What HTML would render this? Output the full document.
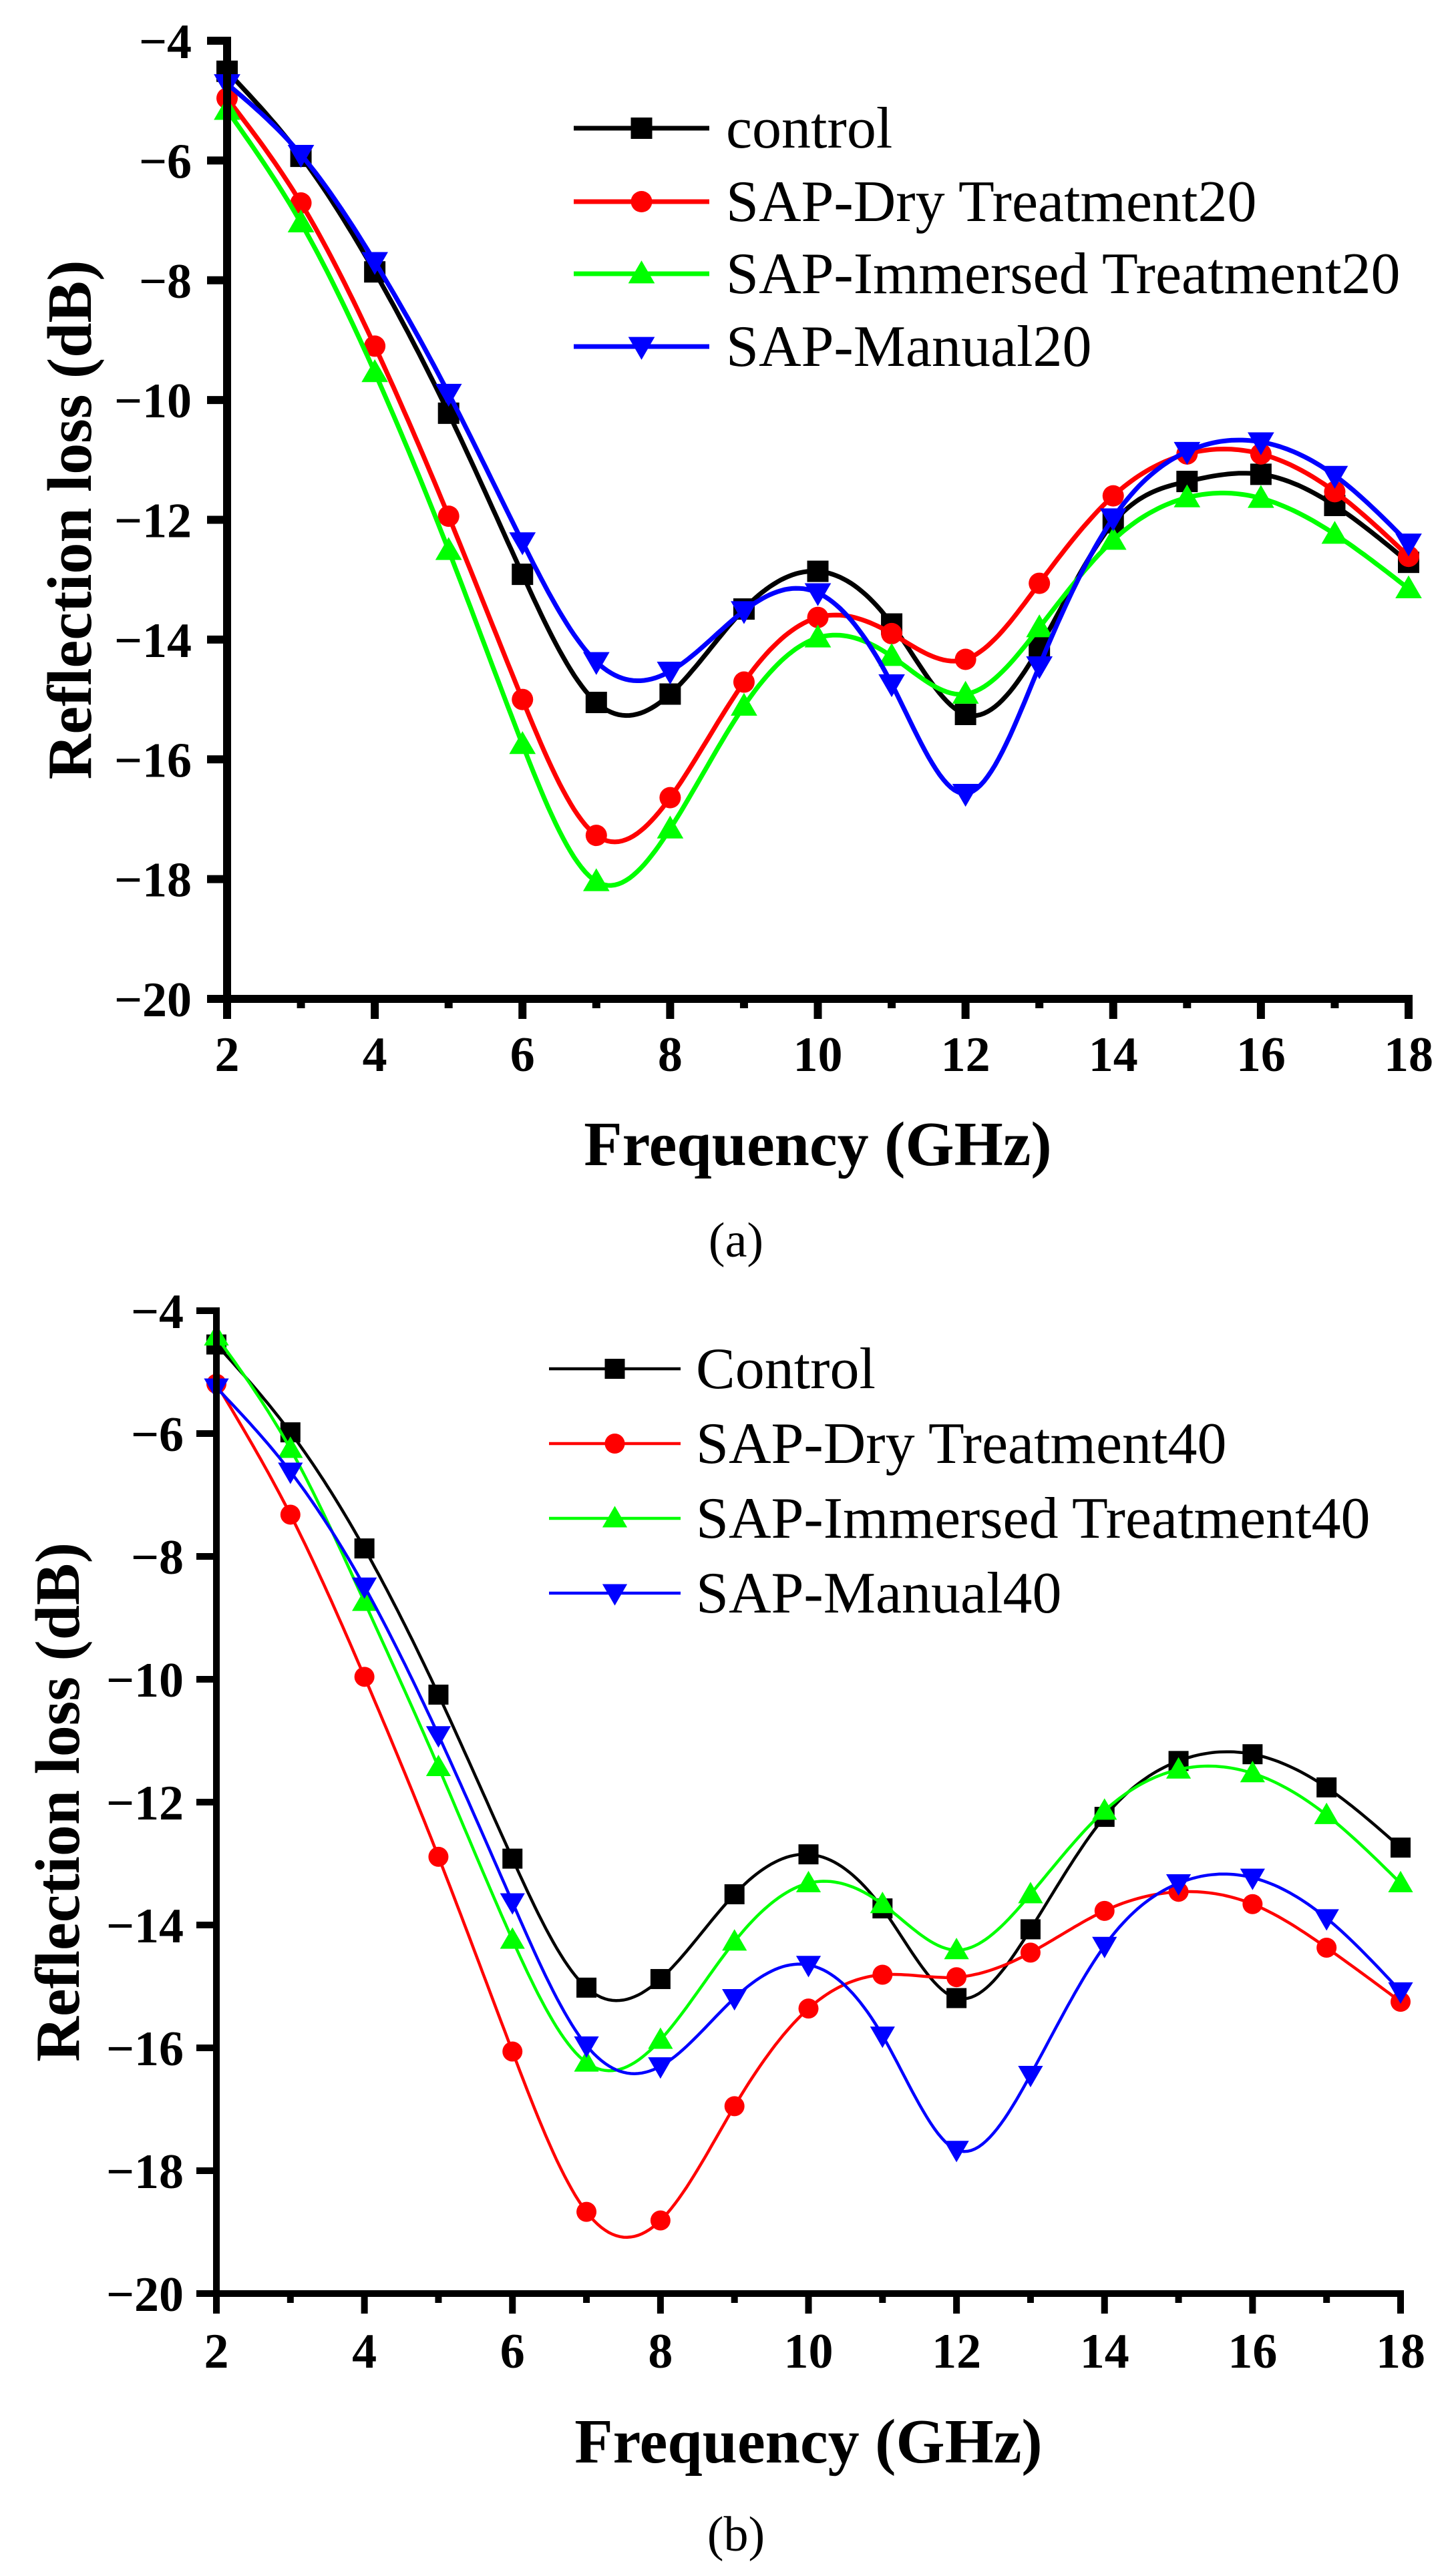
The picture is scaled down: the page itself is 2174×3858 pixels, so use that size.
<!DOCTYPE html>
<html><head><meta charset="utf-8"><style>
html,body{margin:0;padding:0;background:#fff}
svg{display:block}
text{font-family:"Liberation Serif","Times New Roman",serif}
</style></head><body>
<svg id="fig" width="2174" height="3858" viewBox="0 0 2174 3858" xmlns="http://www.w3.org/2000/svg"></svg>
<script>
const freqs=[2,3,4,5,6,7,8,9,10,11,12,13,14,15,16,17,18];
const xTicks=[2,4,6,8,10,12,14,16,18];
const yTicks=[-4,-6,-8,-10,-12,-14,-16,-18,-20];
const aControl=[-4.51,-5.93,-7.86,-10.22,-12.91,-15.05,-14.91,-13.49,-12.86,-13.74,-15.25,-14.13,-12.05,-11.36,-11.24,-11.76,-12.71];
const aDry=[-4.96,-6.71,-9.10,-11.94,-15.0,-17.27,-16.64,-14.71,-13.63,-13.90,-14.33,-13.06,-11.60,-10.90,-10.90,-11.53,-12.61];
const aImm=[-5.16,-7.04,-9.54,-12.51,-15.75,-18.04,-17.16,-15.11,-13.97,-14.28,-14.91,-13.80,-12.34,-11.63,-11.64,-12.24,-13.15];
const aMan=[-4.72,-5.90,-7.69,-9.89,-12.37,-14.37,-14.53,-13.52,-13.22,-14.74,-16.57,-14.44,-11.97,-10.86,-10.70,-11.26,-12.39];
const bControl=[-4.55,-5.98,-7.87,-10.25,-12.92,-15.02,-14.88,-13.5,-12.85,-13.73,-15.19,-14.07,-12.24,-11.33,-11.22,-11.76,-12.74];
const bDry=[-5.19,-7.32,-9.96,-12.89,-16.06,-18.67,-18.81,-16.95,-15.36,-14.81,-14.85,-14.45,-13.77,-13.46,-13.66,-14.37,-15.25];
const bImm=[-4.42,-6.25,-8.74,-11.43,-14.24,-16.24,-15.87,-14.27,-13.32,-13.66,-14.41,-13.5,-12.14,-11.47,-11.53,-12.21,-13.32];
const bMan=[-5.25,-6.62,-8.49,-10.91,-13.63,-15.96,-16.30,-15.19,-14.65,-15.80,-17.66,-16.44,-14.34,-13.32,-13.23,-13.89,-15.08];
const aNames=["control","SAP-Dry Treatment20","SAP-Immersed Treatment20","SAP-Manual20"];
const bNames=["Control","SAP-Dry Treatment40","SAP-Immersed Treatment40","SAP-Manual40"];

const NS="http://www.w3.org/2000/svg";
const svg=document.getElementById('fig');
function mk(tag,attrs,parent){const e=document.createElementNS(NS,tag);for(const k in attrs)e.setAttribute(k,attrs[k]);(parent||svg).appendChild(e);return e;}

function spline(xs,ys){
  const n=xs.length,h=[],al=[],l=[1],mu=[0],z=[0],c=new Array(n).fill(0),b=[],d=[];
  for(let i=0;i<n-1;i++)h.push(xs[i+1]-xs[i]);
  for(let i=1;i<n-1;i++)al[i]=3/h[i]*(ys[i+1]-ys[i])-3/h[i-1]*(ys[i]-ys[i-1]);
  for(let i=1;i<n-1;i++){l[i]=2*(xs[i+1]-xs[i-1])-h[i-1]*mu[i-1];mu[i]=h[i]/l[i];z[i]=(al[i]-h[i-1]*z[i-1])/l[i];}
  for(let j=n-2;j>=0;j--){c[j]=(z[j]||0)-(mu[j]||0)*c[j+1];b[j]=(ys[j+1]-ys[j])/h[j]-h[j]*(c[j+1]+2*c[j])/3;d[j]=(c[j+1]-c[j])/(3*h[j]);}
  return function(x){let j=Math.min(n-2,Math.max(0,Math.floor(x-xs[0])));const dx=x-xs[j];return ys[j]+b[j]*dx+c[j]*dx*dx+d[j]*dx*dx*dx;};
}

function marker(g,kind,cx,cy,col,s){
  let e;
  if(kind===0)e=mk('rect',{x:cx-s/2,y:cy-s/2,width:s,height:s,fill:col},g);
  else if(kind===1)e=mk('circle',{cx:cx,cy:cy,r:s/2,fill:col},g);
  else if(kind===2)e=mk('polygon',{points:`${cx},${cy-s*0.62} ${cx-s*0.62},${cy+s*0.45} ${cx+s*0.62},${cy+s*0.45}`,fill:col},g);
  else e=mk('polygon',{points:`${cx},${cy+s*0.62} ${cx-s*0.62},${cy-s*0.45} ${cx+s*0.62},${cy-s*0.45}`,fill:col},g);
  return e;
}

function chart(cfg){
  const {x0,x1,y0,y1,series,names,lw,aw,ms,leg,tag,prefix}=cfg;
  const X=v=>x0+(v-2)/16*(x1-x0);
  const Y=v=>y0+(-4-v)/16*(y1-y0);
  const g=mk('g',{});
  
  
  const cols=['#000000','#ff0000','#00ff00','#0000ff'];
  const sn=['control','dry-treatment','immersed-treatment','manual'];
  series.forEach((ys,k)=>{
    const sg=mk('g',{},g);
    
    
    const f=spline(freqs,ys);let d='';
    for(let x=2;x<=18.0001;x+=0.05){d+=(d?'L':'M')+X(x).toFixed(1)+','+Y(f(x)).toFixed(1);}
    const p=mk('path',{d:d,fill:'none',stroke:cols[k],'stroke-width':lw},sg);
    
    
    freqs.forEach((fx,i)=>{const m=marker(sg,k,X(fx),Y(ys[i]),cols[k],ms);
      
      });
  });
  const ax=mk('g',{},g);
  
  
  mk('line',{x1:x0,y1:y0-aw/2,x2:x0,y2:y1+30,stroke:'#000','stroke-width':aw},ax);
  mk('line',{x1:x0-30,y1:y1,x2:x1+aw/2,y2:y1,stroke:'#000','stroke-width':aw},ax);
  yTicks.forEach(v=>{mk('line',{x1:x0-30,y1:Y(v),x2:x0,y2:Y(v),stroke:'#000','stroke-width':aw},ax);
    const t=mk('text',{x:cfg.ylx,y:Y(v)+26,'text-anchor':'end','font-size':74,'font-weight':'bold'},ax);t.textContent=String(v).replace('-','\u2212');
    });
  for(let v=3;v<18;v+=2)mk('line',{x1:X(v),y1:y1,x2:X(v),y2:y1+14,stroke:'#000','stroke-width':aw},ax);
  xTicks.forEach(v=>{mk('line',{x1:X(v),y1:y1,x2:X(v),y2:y1+30,stroke:'#000','stroke-width':aw},ax);
    const t=mk('text',{x:X(v),y:cfg.xly,'text-anchor':'middle','font-size':74,'font-weight':'bold'},ax);t.textContent=v;
    });
  let t=mk('text',{x:(x0+x1)/2,y:cfg.xty,'text-anchor':'middle','font-size':94,'font-weight':'bold'},g);t.textContent='Frequency (GHz)';
  
  t=mk('text',{x:0,y:0,'text-anchor':'middle','font-size':94,'font-weight':'bold',transform:`translate(${cfg.ytx},${(y0+y1)/2}) rotate(-90)`},g);t.textContent='Reflection loss (dB)';
  
  t=mk('text',{x:1102,y:cfg.capy,'text-anchor':'middle','font-size':74},g);t.textContent=tag;
  
  const lg=mk('g',{},g);
  
  
  names.forEach((nm,k)=>{
    const ry=leg.rows[k];
    const eg=mk('g',{},lg);
    
    
    mk('line',{x1:leg.lx0,y1:ry,x2:leg.lx1,y2:ry,stroke:cols[k],'stroke-width':lw},eg);
    marker(eg,k,(leg.lx0+leg.lx1)/2,ry,cols[k],ms);
    const tt=mk('text',{x:leg.tx,y:ry+29,'font-size':88},eg);tt.textContent=nm;
  });
}

chart({x0:340,x1:2109,y0:61,y1:1496,series:[aControl,aDry,aImm,aMan],names:aNames,lw:7,aw:12,ms:32,
  leg:{lx0:859,lx1:1062,tx:1087,rows:[192,302,410,519]},tag:'(a)',prefix:'a',ylx:287,xly:1604,xty:1745,ytx:136,capy:1882});
chart({x0:324,x1:2097,y0:1963,y1:3435,series:[bControl,bDry,bImm,bMan],names:bNames,lw:4.5,aw:10,ms:30,
  leg:{lx0:822,lx1:1019,tx:1042,rows:[2050,2162,2274,2386]},tag:'(b)',prefix:'b',ylx:275,xly:3546,xty:3688,ytx:118,capy:3820});
</script>
</body></html>
